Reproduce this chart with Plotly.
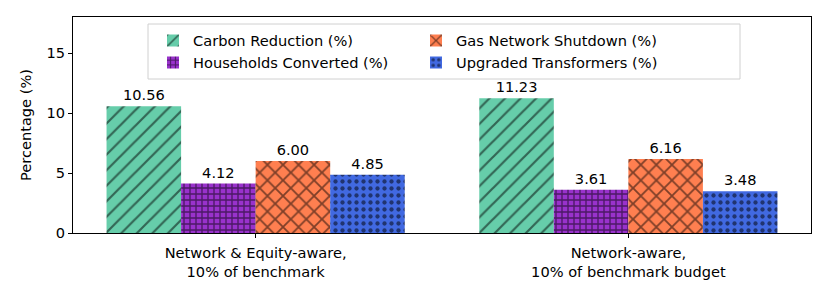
import plotly.graph_objects as go

categories = ["Network & Equity-aware,<br>10% of benchmark",
              "Network-aware,<br>10% of benchmark budget"]
series_names = ["Carbon Reduction (%)", "Households Converted (%)",
                "Gas Network Shutdown (%)", "Upgraded Transformers (%)"]
carbon = [10.56, 11.23]
households = [4.12, 3.61]
gas = [6.00, 6.16]
transformers = [4.85, 3.48]
y_ticks = [0, 5, 10, 15]
y_title = "Percentage (%)"

values = [carbon, households, gas, transformers]
colors = ["#66CDAA", "#9932CC", "#FF7F50", "#4169E1"]
shapes = ["/", "+", "x", "."]
sizes = [11, 6, 11, 7]
solidities = [0.2, 0.4, 0.3, 0.3]
ranks = [1, 3, 2, 4]

FONT = "DejaVu Sans"
FS = 14.6
W, H = 830, 297
OFF = 8  # page body margin offset
# plot area in page pixels
PL, PR, PT, PB = 73, 811, 17, 233
L, T = PL - OFF, PT - OFF
R, B = W - (PR - OFF), H - (PB - OFF)
PW, PH = PR - PL, PB - PT


def px_x(p):
    return (p - PL) / PW


def px_y(p):
    return (PB - p) / PH


fig = go.Figure()
for name, vals, c, sh, sz, so, rk in zip(series_names, values, colors, shapes, sizes, solidities, ranks):
    fig.add_trace(go.Bar(
        x=[0, 1], y=vals, name=name, legendrank=rk,
        marker=dict(color=c, line=dict(width=0),
                    pattern=dict(shape=sh, fgcolor="black", bgcolor=c, size=sz, solidity=so)),
        texttemplate="%{y:.2f}", textposition="outside",
        textfont=dict(family=FONT, size=FS, color="black"),
        cliponaxis=False,
    ))

# legend frame
fig.add_shape(type="rect", xref="paper", yref="paper",
              x0=px_x(148), x1=px_x(740), y0=px_y(79), y1=px_y(24),
              line=dict(color="#d0d0d0", width=1), fillcolor="white", layer="above")

# y-axis title
fig.add_annotation(text=y_title, xref="paper", yref="paper",
                   x=px_x(25), y=0.5, xanchor="center", yanchor="middle",
                   textangle=-90, showarrow=False,
                   font=dict(family=FONT, size=FS, color="black"))

fig.update_layout(
    width=W, height=H,
    margin=dict(l=L, r=R, t=T, b=B),
    paper_bgcolor="white", plot_bgcolor="white",
    barmode="group", bargap=0.2, bargroupgap=0,
    font=dict(family=FONT, size=FS, color="black"),
    showlegend=True,
    legend=dict(orientation="h", x=px_x(153), xanchor="left", y=0.965, yanchor="top",
                bgcolor="rgba(0,0,0,0)", borderwidth=0,
                entrywidth=218, font=dict(family=FONT, size=FS, color="black"),
                traceorder="normal"),
    xaxis=dict(range=[-0.49, 1.49], tickvals=[0, 1], ticktext=categories,
               showline=True, linecolor="black", linewidth=1, mirror=True,
               ticks="outside", ticklen=4, tickcolor="black", showgrid=False,
               zeroline=False, tickfont=dict(family=FONT, size=FS), automargin=False,
               ticklabelstandoff=2),
    yaxis=dict(range=[0, 18], tickvals=y_ticks,
               showline=True, linecolor="black", linewidth=1, mirror=True,
               ticks="outside", ticklen=4, tickcolor="black", showgrid=False,
               zeroline=False, tickfont=dict(family=FONT, size=FS), automargin=False),
)

fig.write_html("out.html")
